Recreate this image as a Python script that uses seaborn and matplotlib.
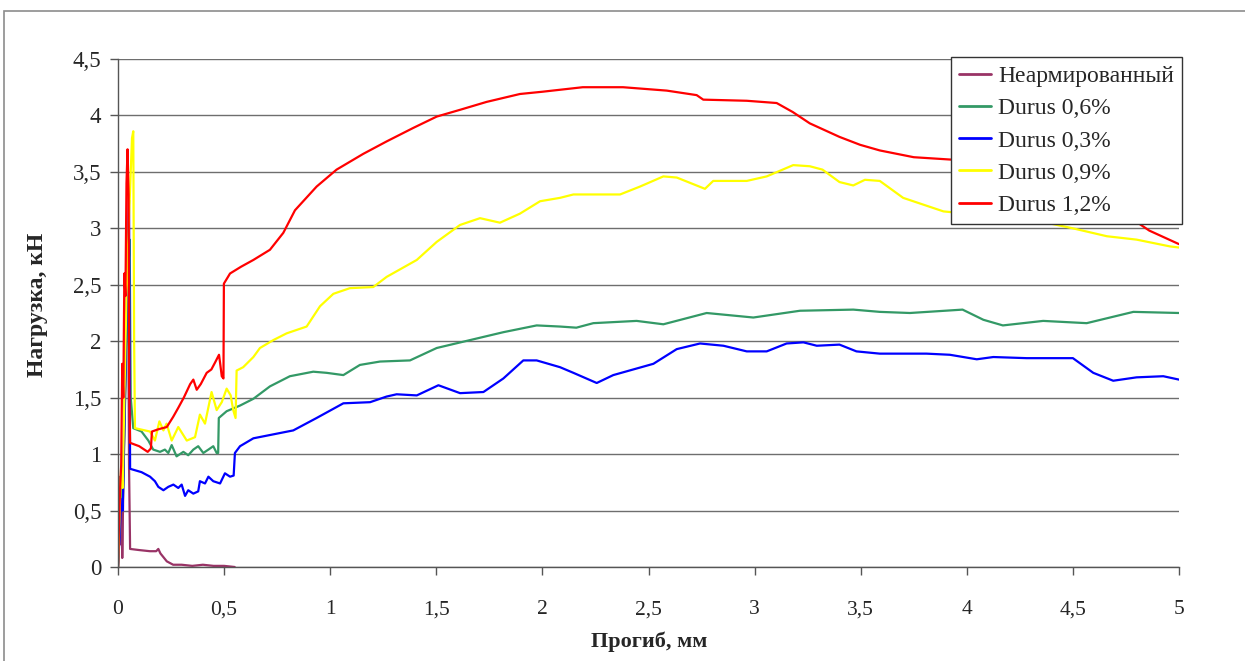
import numpy as np
import pandas as pd
import seaborn as sns
import matplotlib
matplotlib.use("Agg")
import matplotlib.pyplot as plt
from matplotlib.ticker import FuncFormatter
from matplotlib.patches import Rectangle

# ---------------- data ----------------
series_names = ["Неармированный", "Durus 0,6%", "Durus 0,3%", "Durus 0,9%", "Durus 1,2%"]
series_colors = ["#993366", "#339966", "#0000FF", "#FFFF00", "#FF0000"]

x_plain = [0, 0.005, 0.01, 0.013, 0.017, 0.02, 0.025, 0.03, 0.04, 0.047, 0.052, 0.057, 0.1, 0.15, 0.18,
           0.19, 0.2, 0.23, 0.26, 0.3, 0.35, 0.4, 0.45, 0.5, 0.55]
y_plain = [0, 0.3, 0.8, 0.2, 0.75, 0.08, 0.7, 1.2, 2.2, 2.9, 0.9, 0.16, 0.15, 0.14, 0.14,
           0.16, 0.12, 0.05, 0.02, 0.02, 0.01, 0.02, 0.01, 0.01, 0.0]

x_06 = [0, 0.008, 0.015, 0.022, 0.03, 0.04, 0.048, 0.055, 0.06, 0.072, 0.111, 0.143, 0.166, 0.198, 0.221,
        0.237, 0.253, 0.276, 0.308, 0.331, 0.355, 0.378, 0.402, 0.426, 0.449, 0.465, 0.472, 0.475, 0.512,
        0.575, 0.638, 0.716, 0.81, 0.92, 0.983, 1.062, 1.14, 1.235, 1.376, 1.502, 1.659, 1.816, 1.973,
        2.083, 2.16, 2.24, 2.444, 2.57, 2.774, 2.994, 3.214, 3.465, 3.59, 3.732, 3.98, 4.078, 4.17, 4.36,
        4.565, 4.785, 5.0]
y_06 = [0, 0.4, 0.7, 0.5, 1.2, 2.0, 2.6, 2.9, 1.5, 1.23, 1.20, 1.12, 1.04, 1.02, 1.04,
        1.01, 1.08, 0.98, 1.02, 0.99, 1.04, 1.07, 1.01, 1.04, 1.07, 1.01, 1.01, 1.32, 1.38,
        1.43, 1.49, 1.60, 1.69, 1.73, 1.72, 1.70, 1.79, 1.82, 1.83, 1.94, 2.01, 2.08, 2.14,
        2.13, 2.12, 2.16, 2.18, 2.15, 2.25, 2.21, 2.27, 2.28, 2.26, 2.25, 2.28, 2.19, 2.14, 2.18,
        2.16, 2.26, 2.25]

x_03 = [0, 0.008, 0.015, 0.022, 0.03, 0.04, 0.048, 0.052, 0.057, 0.111, 0.151, 0.174, 0.19, 0.214, 0.237,
        0.261, 0.284, 0.30, 0.316, 0.331, 0.355, 0.378, 0.386, 0.41, 0.426, 0.449, 0.481, 0.504, 0.528,
        0.545, 0.551, 0.575, 0.638, 0.826, 0.936, 1.062, 1.188, 1.266, 1.313, 1.408, 1.51, 1.612, 1.722,
        1.816, 1.91, 1.973, 2.083, 2.146, 2.256, 2.334, 2.523, 2.633, 2.743, 2.853, 2.963, 3.057, 3.151,
        3.23, 3.293, 3.40, 3.48, 3.59, 3.81, 3.92, 4.047, 4.125, 4.282, 4.50, 4.596, 4.69, 4.80, 4.926, 5.0]
y_03 = [0, 0.3, 0.6, 0.5, 1.3, 2.2, 3.0, 3.25, 0.87, 0.84, 0.80, 0.76, 0.71, 0.68, 0.71,
        0.73, 0.70, 0.73, 0.63, 0.68, 0.65, 0.67, 0.76, 0.74, 0.80, 0.76, 0.74, 0.83, 0.80,
        0.81, 1.01, 1.07, 1.14, 1.21, 1.32, 1.45, 1.46, 1.51, 1.53, 1.52, 1.61, 1.54, 1.55,
        1.67, 1.83, 1.83, 1.77, 1.72, 1.63, 1.70, 1.80, 1.93, 1.98, 1.96, 1.91, 1.91, 1.98,
        1.99, 1.96, 1.97, 1.91, 1.89, 1.89, 1.88, 1.84, 1.86, 1.85, 1.85, 1.72, 1.65, 1.68, 1.69, 1.66]

x_09 = [0, 0.008, 0.015, 0.022, 0.03, 0.04, 0.05, 0.06, 0.066, 0.072, 0.076, 0.08, 0.151, 0.174, 0.195,
        0.214, 0.229, 0.253, 0.284, 0.324, 0.363, 0.386, 0.41, 0.441, 0.465, 0.489, 0.512, 0.531, 0.543,
        0.554, 0.559, 0.59, 0.638, 0.669, 0.732, 0.795, 0.889, 0.952, 1.015, 1.093, 1.203, 1.266, 1.408,
        1.502, 1.612, 1.706, 1.80, 1.894, 1.989, 2.083, 2.146, 2.366, 2.46, 2.57, 2.633, 2.766, 2.805,
        2.963, 3.057, 3.182, 3.26, 3.32, 3.40, 3.465, 3.52, 3.59, 3.70, 3.89, 4.0, 4.3, 4.5, 4.66, 4.80,
        4.957, 5.0]
y_09 = [0, 0.5, 0.9, 0.7, 1.5, 2.4, 3.0, 3.5, 3.8, 3.86, 2.0, 1.23, 1.20, 1.12, 1.29,
        1.21, 1.27, 1.12, 1.24, 1.12, 1.15, 1.35, 1.27, 1.55, 1.39, 1.46, 1.58, 1.52, 1.39,
        1.32, 1.74, 1.77, 1.86, 1.94, 2.01, 2.07, 2.13, 2.31, 2.42, 2.47, 2.48, 2.57, 2.72,
        2.88, 3.03, 3.09, 3.05, 3.13, 3.24, 3.27, 3.30, 3.30, 3.37, 3.46, 3.45, 3.35, 3.42,
        3.42, 3.46, 3.56, 3.55, 3.52, 3.41, 3.38, 3.43, 3.42, 3.27, 3.15, 3.13, 3.08, 3.0, 2.93, 2.90,
        2.84, 2.83]

x_12 = [0, 0.005, 0.01, 0.015, 0.02, 0.025, 0.03, 0.035, 0.04, 0.045, 0.05, 0.053, 0.057, 0.1, 0.14,
        0.155, 0.16, 0.19, 0.23, 0.26, 0.284, 0.31, 0.34, 0.355, 0.371, 0.39, 0.418, 0.44, 0.457, 0.476,
        0.483, 0.489, 0.497, 0.499, 0.528, 0.58, 0.638, 0.716, 0.779, 0.834, 0.936, 1.03, 1.156, 1.266,
        1.392, 1.502, 1.612, 1.737, 1.894, 2.0, 2.19, 2.38, 2.586, 2.727, 2.758, 2.963, 3.104, 3.18, 3.26,
        3.40, 3.497, 3.59, 3.75, 4.0, 4.2, 4.4, 4.6, 4.75, 4.86, 5.0]
y_12 = [0, 0.4, 0.7, 0.9, 1.8, 1.5, 2.6, 2.4, 3.4, 3.7, 3.3, 1.6, 1.1, 1.07, 1.02,
        1.05, 1.2, 1.22, 1.24, 1.33, 1.41, 1.5, 1.62, 1.66, 1.57, 1.62, 1.72, 1.75, 1.81, 1.88,
        1.78, 1.69, 1.67, 2.51, 2.60, 2.66, 2.72, 2.81, 2.96, 3.16, 3.37, 3.52, 3.66, 3.77,
        3.89, 3.99, 4.05, 4.12, 4.19, 4.21, 4.25, 4.25, 4.22, 4.18, 4.14, 4.13, 4.11, 4.03, 3.93,
        3.81, 3.74, 3.69, 3.63, 3.60, 3.52, 3.42, 3.28, 3.12, 2.98, 2.86]

x_ticks = [0, 0.5, 1, 1.5, 2, 2.5, 3, 3.5, 4, 4.5, 5]
y_ticks = [0, 0.5, 1, 1.5, 2, 2.5, 3, 3.5, 4, 4.5]
x_label = "Прогиб, мм"
y_label = "Нагрузка, кН"

all_x = [x_plain, x_06, x_03, x_09, x_12]
all_y = [y_plain, y_06, y_03, y_09, y_12]

# ---------------- plot ----------------
sns.set_theme(style="white")
plt.rcParams["font.family"] = ["Liberation Serif", "DejaVu Serif"]

fig = plt.figure(figsize=(12.45, 6.61), dpi=100)
ax = fig.add_axes([118 / 1245, 1 - 567 / 661, (1179 - 118) / 1245, (567 - 59) / 661])

for name, col, xs, ys in zip(series_names, series_colors, all_x, all_y):
    df = pd.DataFrame({"x": xs, "y": ys})
    sns.lineplot(data=df, x="x", y="y", ax=ax, color=col, linewidth=1.6,
                 sort=False, estimator=None, label=name)

ax.set_xlim(0, 5)
ax.set_ylim(0, 4.5)
ax.set_xticks(x_ticks)
ax.set_yticks(y_ticks)
comma = FuncFormatter(lambda v, p: ("%g" % v).replace(".", ","))
ax.xaxis.set_major_formatter(comma)
ax.yaxis.set_major_formatter(comma)

ax.grid(axis="y", color="#6e6e6e", linewidth=1.0)
ax.grid(axis="x", visible=False)
ax.set_axisbelow(True)
for s in ["top", "right"]:
    ax.spines[s].set_visible(False)
for s in ["left", "bottom"]:
    ax.spines[s].set_color("#555555")
    ax.spines[s].set_linewidth(1.0)

ax.tick_params(axis="x", direction="out", length=6, width=1, color="#555555",
               pad=18, labelsize=15.5, bottom=True)
ax.tick_params(axis="y", direction="out", length=6, width=1, color="#555555",
               pad=6, labelsize=16.5, left=True)

ax.set_xlabel(x_label, fontsize=16, fontweight="bold")
ax.xaxis.set_label_coords((649 - 118) / 1061, -(631 - 567) / 508)
ax.set_ylabel(y_label, fontsize=17, fontweight="bold")
ax.yaxis.set_label_coords(-(118 - 48) / 1061, (567 - 305) / 508)

leg = ax.legend(loc="upper right", bbox_to_anchor=(1.003, 1.003), borderaxespad=0,
                frameon=True, fancybox=False, fontsize=17, handlelength=1.35,
                handletextpad=0.3, labelspacing=0.45, borderpad=0.35, framealpha=1)
leg.get_frame().set_edgecolor("#333333")
leg.get_frame().set_linewidth(1.0)
for h in leg.get_lines():
    h.set_linewidth(2.0)

# outer chart-area border
fig.patches.append(Rectangle((4 / 1245, -0.05), 1.1, (661 - 11) / 661 + 0.05,
                             transform=fig.transFigure, fill=False,
                             edgecolor="#8c8c8c", linewidth=1.2))

fig.savefig("out.png", dpi=100)
